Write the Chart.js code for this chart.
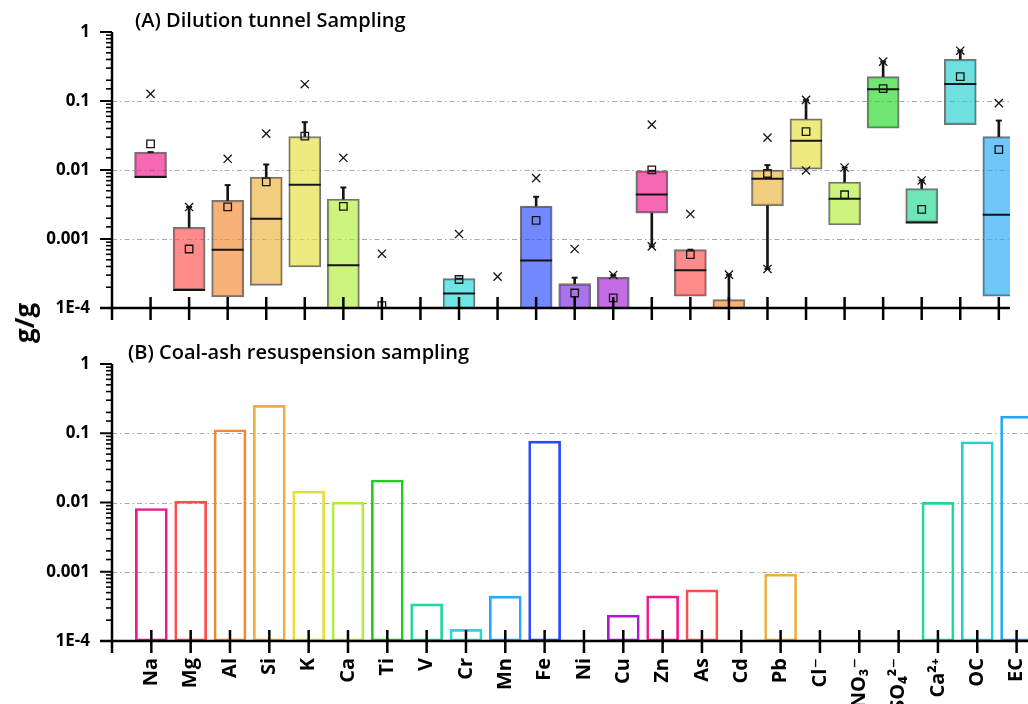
<!DOCTYPE html>
<html>
<head>
<meta charset="utf-8">
<script src="https://cdn.jsdelivr.net/npm/chart.js@4.4.1/dist/chart.umd.min.js"></script>
<style>
body{margin:0;background:#fff;}
#wrap{position:relative;width:1028px;height:704px;overflow:hidden;background:#fff;}
#top{position:absolute;left:0;top:0;}
#bot{position:absolute;left:0;top:332px;}
#ylab{position:absolute;left:24px;top:323px;transform:translate(-50%,-50%) rotate(-90deg);font:bold 26px "Open Sans";white-space:nowrap;color:#000;}
</style>
</head>
<body>
<div id="wrap">
<canvas id="top" width="1028" height="332"></canvas>
<canvas id="bot" width="1028" height="372"></canvas>
<div id="ylab">g/g</div>
</div>
<script>
// species on the x axis
var cats = ['Na','Mg','Al','Si','K','Ca','Ti','V','Cr','Mn','Fe','Ni','Cu','Zn','As','Cd','Pb','Cl\u207B','NO\u2083\u207B','SO\u2084\u00B2\u207B','Ca\u00B2\u207A','OC','EC'];

// (A) dilution tunnel - box statistics, g/g (null = not shown)
var boxLow  = [0.00789,0.000183,0.000145,0.000213,0.000394,0.00005,null,null,0.00005,null,0.00005,0.00005,0.00005,0.002377,0.000148,0.00005,0.00303,0.0103,0.001595,0.0404,0.00174,0.0455,0.000148];
var boxHigh = [0.01816,0.001472,0.003622,0.00789,0.03055,0.00379,null,null,0.000266,null,0.003006,0.000225,0.000278,0.00973,0.0007,0.000132,0.00997,0.0551,0.00668,0.2255,0.0054,0.4025,0.0305];
var median  = [0.00789,0.000183,0.0007,0.001967,0.00611,0.000415,null,null,0.000162,null,0.00049,null,null,0.00442,0.000351,null,0.00746,0.0265,0.00383,0.148,0.00174,0.1768,0.00225];
var mean    = [0.0239,0.000716,0.00293,0.006747,0.031,0.002964,0.000108,null,0.000259,null,0.001858,0.000165,0.00014,0.01007,0.000593,null,0.0089,0.0361,0.00438,0.151,0.00268,0.2255,0.0198];
var whiskHi = [0.01816,0.002904,0.00604,0.01202,0.0493,0.00558,null,null,0.000266,null,0.00409,0.000275,0.000301,0.00973,0.0007,0.000304,0.01177,0.1037,0.01087,0.372,0.00705,0.536,0.052];
var whiskLo = [null,null,null,null,null,null,null,null,null,null,null,null,null,0.000782,null,null,0.000368,null,null,null,null,null,null];
var maxMark = [0.1267,0.002904,0.01453,0.0337,0.175,0.01502,0.000612,null,0.00118,0.000285,0.00764,0.000716,0.000301,0.0455,0.0023,0.000304,0.0295,0.1037,0.01087,0.372,0.00705,0.536,0.093];
var minMark = [null,null,null,null,null,null,null,null,null,null,null,null,null,0.000782,null,null,0.000368,0.00984,null,null,null,null,null];

// (B) coal-ash resuspension, g/g
var coalAsh = [0.0082,0.01047,0.1124,0.253,0.01462,0.01013,0.0211,0.000344,0.000147,0.000444,0.0771,null,0.000236,0.000449,0.000548,null,0.000923,null,null,null,0.01003,0.0754,0.177];

var yTickValues = [0.0001,0.001,0.01,0.1,1];
var yTickLabels = ['1E-4','0.001','0.01','0.1','1'];

var lineCol = ['#F0188C','#FF4D4D','#F5882E','#EBB03A','#E6DE3A','#B4EC3A','#22CC22','#22D4A0','#22D8D8','#2AA8FF','#2848FF','#7A28E0','#A81CD8','#F0188C','#FF4D4D','#F5882E','#EBB03A','#E6DE3A','#B4EC3A','#22D822','#22D890','#22D0D0','#22A8F5'];

function fade(hex, a){
  var r=parseInt(hex.substr(1,2),16), g=parseInt(hex.substr(3,2),16), b=parseInt(hex.substr(5,2),16);
  return 'rgba('+r+','+g+','+b+','+a+')';
}
function pts(arr){
  var out=[];
  arr.forEach(function(v,i){ if(v!=null) out.push({x:i,y:v}); });
  return out;
}
function ranges(lo, hi){
  var out=[];
  for(var i=0;i<cats.length;i++){
    if(lo[i]!=null && hi[i]!=null && hi[i]>lo[i]) out.push({x:i,y:[lo[i],hi[i]]});
  }
  return out;
}
function isDecade(v){ var l=Math.log10(v); return Math.abs(l-Math.round(l))<1e-6; }

var FONT='"Open Sans", "DejaVu Sans", sans-serif';

var frame = {
  id:'frame',
  beforeDatasetsDraw:function(chart){
    var y=chart.scales.y, a=chart.chartArea, ctx=chart.ctx;
    ctx.save();
    ctx.strokeStyle='#a8a8a8'; ctx.lineWidth=1.2; ctx.setLineDash([5,3,1.5,3]);
    yTickValues.forEach(function(v){
      if(v<=y.min || v>=y.max) return;
      var p=Math.round(y.getPixelForValue(v))+0.5;
      ctx.beginPath(); ctx.moveTo(a.left,p); ctx.lineTo(a.right,p); ctx.stroke();
    });
    ctx.restore();
  },
  afterDatasetsDraw:function(chart, args, opts){
    var x=chart.scales.x, y=chart.scales.y, a=chart.chartArea, ctx=chart.ctx;
    ctx.save();
    ctx.strokeStyle='#000'; ctx.lineCap='butt';
    // minor / major y ticks
    y.ticks.forEach(function(t){
      var p=y.getPixelForValue(t.value);
      var major=isDecade(t.value);
      ctx.lineWidth=major?2:1.6;
      ctx.beginPath(); ctx.moveTo(a.left-(major?12:6),p); ctx.lineTo(a.left,p); ctx.stroke();
    });
    // x ticks crossing the axis
    ctx.lineWidth=2.5;
    for(var i=0;i<cats.length;i++){
      var px=x.getPixelForValue(i);
      ctx.beginPath(); ctx.moveTo(px,a.bottom-11); ctx.lineTo(px,a.bottom+12); ctx.stroke();
    }
    // axis lines
    ctx.lineWidth=2.5;
    ctx.beginPath(); ctx.moveTo(a.left,a.top); ctx.lineTo(a.left,a.bottom+12); ctx.stroke();
    ctx.beginPath(); ctx.moveTo(a.left-12,a.bottom); ctx.lineTo(a.right,a.bottom); ctx.stroke();
    // panel title
    ctx.fillStyle='#000';
    ctx.font='600 20px '+FONT;
    ctx.textBaseline='alphabetic';
    ctx.fillText(opts.title, a.left+opts.dx, a.top-5);
    ctx.restore();
  }
};

function yAxis(){
  return {
    type:'logarithmic', min:0.0001, max:1,
    grid:{display:false, drawTicks:false}, border:{display:false},
    ticks:{autoSkip:false, padding:22, color:'#000', font:{family:FONT, size:17, weight:'bold'},
      callback:function(v){
        for(var j=0;j<yTickValues.length;j++){ if(Math.abs(v/yTickValues[j]-1)<1e-6) return yTickLabels[j]; }
        return '';
      }},
    afterFit:function(s){ s.width=112; s.paddingTop=0; s.paddingBottom=0; }
  };
}
function xAxis(h, show){
  return {
    type:'linear', min:-1, max:22.29, offset:false,
    grid:{display:false, drawTicks:false, offset:false}, border:{display:false},
    ticks:{display:show, stepSize:1, includeBounds:false, autoSkip:false, minRotation:90, maxRotation:90, padding:17,
      color:'#000', font:{family:FONT, size:20, weight:'bold'},
      callback:function(v){ return cats[v]!==undefined ? cats[v] : ''; }},
    afterFit:function(s){ s.height=h; s.paddingLeft=0; s.paddingRight=0; }
  };
}

var boxFill = lineCol.map(function(c){ return fade(c,0.65); });

new Chart(document.getElementById('top'), {
  type:'bar',
  data:{
    datasets:[
      {label:'box', data:cats.map(function(c,i){ return {x:i, y:(boxLow[i]!=null?[boxLow[i],boxHigh[i]]:null)}; }).filter(function(d){return d.y;}),
        backgroundColor:function(c){ return c.raw?boxFill[c.raw.x]:'#ccc'; },
        borderColor:'rgba(70,70,70,0.75)', borderWidth:1.6, borderSkipped:false, barThickness:32, grouped:false, order:5},
      {label:'whisker up', data:ranges(boxHigh, whiskHi), backgroundColor:'#151515', borderWidth:0, barThickness:2, grouped:false, order:4},
      {label:'whisker down', data:ranges(whiskLo, boxLow), backgroundColor:'#151515', borderWidth:0, barThickness:2, grouped:false, order:4},
      {type:'scatter', label:'median', data:pts(median), pointStyle:'line', radius:16, borderColor:'#151515', borderWidth:2, order:3},
      {type:'scatter', label:'cap hi', data:pts(whiskHi), pointStyle:'line', radius:3, borderColor:'#151515', borderWidth:2, order:3},
      {type:'scatter', label:'cap lo', data:pts(whiskLo), pointStyle:'line', radius:3, borderColor:'#151515', borderWidth:2, order:3},
      {type:'scatter', label:'mean', data:pts(mean), pointStyle:'rect', radius:5.3, backgroundColor:'rgba(0,0,0,0)', borderColor:'#151515', borderWidth:1.3, order:2},
      {type:'scatter', label:'max', data:pts(maxMark), pointStyle:'crossRot', radius:5.8, borderColor:'#151515', borderWidth:1.3, order:1},
      {type:'scatter', label:'min', data:pts(minMark), pointStyle:'crossRot', radius:5.8, borderColor:'#151515', borderWidth:1.3, order:1}
    ]
  },
  options:{
    responsive:false, animation:false, devicePixelRatio:1, events:[],
    layout:{padding:{top:32, right:0, left:0, bottom:0}},
    plugins:{legend:{display:false}, tooltip:{enabled:false}, frame:{title:'(A) Dilution tunnel Sampling', dx:23}},
    scales:{x:xAxis(24,false), y:yAxis()}
  },
  plugins:[frame]
});

new Chart(document.getElementById('bot'), {
  type:'bar',
  data:{
    datasets:[
      {label:'coal ash', data:pts(coalAsh),
        backgroundColor:'rgba(0,0,0,0)',
        borderColor:function(c){ return c.raw?lineCol[c.raw.x]:'#000'; },
        borderWidth:2, borderSkipped:false, barThickness:32, grouped:false}
    ]
  },
  options:{
    responsive:false, animation:false, devicePixelRatio:1, events:[],
    layout:{padding:{top:32, right:0, left:0, bottom:0}},
    plugins:{legend:{display:false}, tooltip:{enabled:false}, frame:{title:'(B) Coal-ash resuspension sampling', dx:16}},
    scales:{x:xAxis(63,true), y:yAxis()}
  },
  plugins:[frame]
});
</script>
</body>
</html>
